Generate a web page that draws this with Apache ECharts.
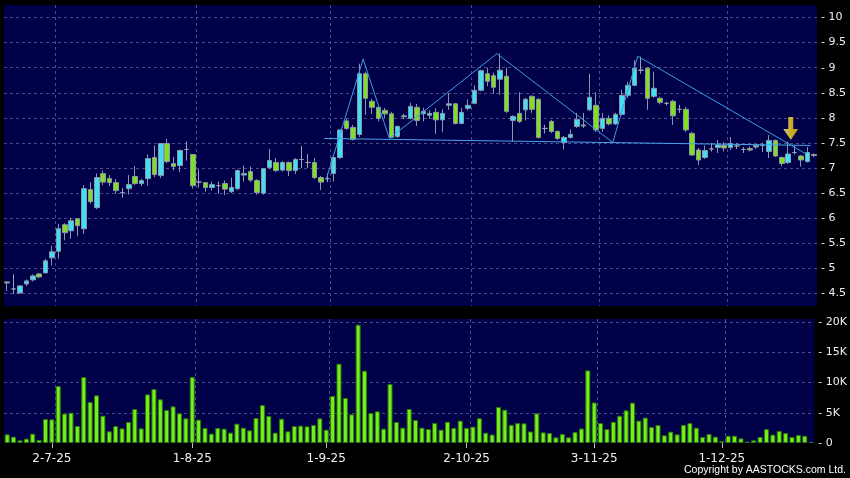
<!DOCTYPE html>
<html>
<head>
<meta charset="utf-8">
<script src="https://cdn.jsdelivr.net/npm/echarts@6/dist/echarts.min.js"></script>
<style>
html, body { margin: 0; padding: 0; background: #000; }
#chart { width: 850px; height: 478px; }
</style>
</head>
<body>
<div id="chart"></div>
<script>
// trading days, d-m-yy
const dates = [
  '20-6-25','23-6-25','24-6-25','25-6-25','26-6-25','27-6-25','30-6-25',
  '2-7-25','3-7-25','4-7-25','7-7-25','8-7-25','9-7-25','10-7-25','11-7-25','14-7-25','15-7-25','16-7-25','17-7-25','18-7-25','21-7-25','22-7-25','23-7-25','24-7-25','25-7-25','28-7-25','29-7-25','30-7-25','31-7-25',
  '1-8-25','4-8-25','5-8-25','6-8-25','7-8-25','8-8-25','11-8-25','12-8-25','13-8-25','14-8-25','15-8-25','18-8-25','19-8-25','20-8-25','21-8-25','22-8-25','25-8-25','26-8-25','27-8-25','28-8-25','29-8-25',
  '1-9-25','2-9-25','3-9-25','4-9-25','5-9-25','8-9-25','9-9-25','10-9-25','11-9-25','12-9-25','15-9-25','16-9-25','17-9-25','18-9-25','19-9-25','22-9-25','23-9-25','24-9-25','25-9-25','26-9-25','29-9-25','30-9-25',
  '2-10-25','3-10-25','6-10-25','8-10-25','9-10-25','10-10-25','13-10-25','14-10-25','15-10-25','16-10-25','17-10-25','20-10-25','21-10-25','22-10-25','23-10-25','24-10-25','27-10-25','28-10-25','30-10-25','31-10-25',
  '3-11-25','4-11-25','5-11-25','6-11-25','7-11-25','10-11-25','11-11-25','12-11-25','13-11-25','14-11-25','17-11-25','18-11-25','19-11-25','20-11-25','21-11-25','24-11-25','25-11-25','26-11-25','27-11-25','28-11-25',
  '1-12-25','2-12-25','3-12-25','4-12-25','5-12-25','8-12-25','9-12-25','10-12-25','11-12-25','12-12-25','15-12-25','16-12-25','17-12-25','18-12-25','19-12-25'
];

const tickDates = ['2-7-25', '1-8-25', '1-9-25', '2-10-25', '3-11-25', '1-12-25'];

// [open, close, low, high]
const ohlc = [
  [4.73,4.71,4.55,4.74],[4.59,4.59,4.49,4.88],[4.51,4.65,4.49,4.66],[4.69,4.75,4.65,4.78],[4.77,4.85,4.74,4.88],
  [4.89,4.83,4.80,4.91],[4.91,5.15,4.90,5.19],[5.21,5.33,5.06,5.45],[5.34,5.79,5.19,5.88],[5.87,5.71,5.56,5.90],
  [5.75,5.95,5.59,6.01],[5.99,5.85,5.64,6.00],[5.79,6.59,5.69,6.66],[6.57,6.33,6.29,6.72],[6.21,6.81,6.18,6.89],
  [6.89,6.72,6.66,6.95],[6.79,6.71,6.64,6.86],[6.71,6.55,6.49,6.78],[6.51,6.51,6.41,6.60],[6.59,6.67,6.47,6.86],
  [6.83,6.69,6.66,7.04],[6.69,6.75,6.64,6.78],[6.79,7.19,6.65,7.27],[7.21,6.87,6.82,7.45],[6.85,7.49,6.80,7.50],
  [7.49,7.13,7.10,7.58],[7.09,7.03,6.95,7.22],[7.05,7.35,6.92,7.37],[7.37,7.37,7.15,7.53],[7.27,6.65,6.59,7.28],
  [6.72,6.72,6.61,6.97],[6.71,6.61,6.53,6.72],[6.61,6.67,6.55,6.73],[6.65,6.65,6.49,6.73],[6.69,6.58,6.46,6.75],
  [6.53,6.61,6.50,6.81],[6.59,6.95,6.56,6.97],[6.86,6.89,6.73,7.05],[6.93,6.76,6.72,7.03],[6.75,6.51,6.47,6.78],
  [6.50,6.99,6.47,7.00],[7.01,7.15,6.98,7.38],[7.11,6.95,6.92,7.20],[6.96,7.11,6.93,7.14],[7.11,6.95,6.84,7.13],
  [6.95,7.17,6.88,7.20],[7.17,7.17,7.00,7.44],[7.11,7.11,7.00,7.28],[7.11,6.81,6.78,7.20],[6.81,6.72,6.56,6.84],
  [6.79,6.79,6.72,6.90],[6.89,7.21,6.73,7.24],[7.21,7.76,7.18,7.76],[7.94,7.79,7.76,7.98],[7.81,7.57,7.55,7.86],
  [7.67,8.88,7.62,9.08],[8.88,8.39,8.06,8.92],[8.33,8.21,8.08,8.38],[8.21,7.99,7.93,8.25],[8.15,8.08,8.00,8.20],
  [8.08,7.61,7.59,8.12],[7.63,7.83,7.60,7.85],[8.04,8.02,7.97,8.08],[7.99,8.23,7.97,8.30],[8.21,7.95,7.84,8.28],
  [8.08,8.13,7.93,8.20],[8.05,8.09,7.98,8.15],[8.11,7.96,7.68,8.19],[7.96,8.09,7.72,8.17],[8.25,8.28,8.16,8.49],
  [8.28,7.89,7.87,8.30],[7.89,8.11,7.87,8.20],[8.19,8.25,8.15,8.37],[8.29,8.55,8.27,8.65],[8.55,8.94,8.53,8.96],
  [8.88,8.73,8.63,9.00],[8.84,8.61,8.48,8.90],[8.77,8.95,8.46,9.28],[8.83,8.13,8.10,9.00],[7.95,8.03,7.53,8.05],
  [8.09,7.93,7.90,8.51],[8.16,8.37,7.95,8.40],[8.43,8.17,8.10,8.45],[8.37,7.61,7.59,8.39],[7.79,7.79,7.69,7.86],
  [7.93,7.73,7.70,7.96],[7.73,7.59,7.56,7.75],[7.51,7.61,7.37,7.64],[7.61,7.67,7.59,7.77],[7.83,7.97,7.80,8.10],
  [7.84,7.86,7.80,8.10],[8.16,8.41,8.14,8.88],[8.25,7.76,7.72,8.51],[7.79,7.99,7.72,8.10],[7.99,7.88,7.85,8.05],
  [7.88,8.07,7.86,8.10],[8.07,8.45,8.05,8.56],[8.45,8.65,8.40,8.72],[8.65,8.99,8.63,9.15],[8.95,8.95,8.88,9.22],
  [8.99,8.39,8.16,9.00],[8.43,8.59,8.40,8.92],[8.39,8.31,8.27,8.42],[8.29,8.29,8.25,8.32],[8.33,8.04,7.86,8.36],
  [8.17,8.17,8.10,8.26],[8.17,7.76,7.72,8.22],[7.69,7.26,7.24,7.72],[7.36,7.16,7.06,7.40],[7.21,7.35,7.18,7.45],
  [7.38,7.38,7.33,7.50],[7.41,7.46,7.30,7.56],[7.45,7.40,7.33,7.52],[7.41,7.49,7.36,7.62],[7.44,7.44,7.38,7.50],
  [7.37,7.37,7.30,7.42],[7.39,7.36,7.33,7.43],[7.42,7.45,7.38,7.48],[7.45,7.45,7.32,7.50],[7.33,7.55,7.20,7.66],
  [7.55,7.24,7.22,7.57],[7.21,7.09,7.04,7.23],[7.11,7.28,7.08,7.53],[7.31,7.31,7.27,7.45],[7.24,7.16,7.03,7.26],
  [7.13,7.31,7.11,7.42],[7.27,7.25,7.22,7.29]
];

// volume in thousands
const volumeK = [
  1.43,1.05,0.44,0.72,1.54,0.5,3.97,3.91,9.42,4.85,
  5.01,2.81,10.9,6.78,7.88,4.52,1.93,2.81,2.42,3.47,
  5.62,2.42,8.04,8.93,7.22,5.45,6.06,4.9,4.08,10.9,
  3.86,2.48,1.54,2.48,2.37,1.71,3.2,2.53,2.09,4.13,
  6.28,4.46,1.71,4.02,1.93,2.81,2.87,2.75,2.98,4.08,
  2.2,7.77,13.1,7.44,4.74,19.56,11.96,4.96,5.23,2.37,
  9.75,3.47,2.53,5.62,3.8,2.53,2.3,3.3,2.2,3.5,
  2.5,3.7,2.5,2.7,4.1,1.7,1.4,5.95,5.5,3.0,
  3.3,3.25,1.9,4.9,1.76,1.65,0.94,1.5,0.94,1.8,
  2.4,12.0,6.7,3.3,2.3,3.5,4.5,5.4,6.67,3.7,
  4.2,2.64,2.98,1.27,1.87,1.43,2.98,3.3,2.53,1.0,
  1.5,1.05,0.33,1.2,1.2,0.77,0.22,0.44,1.0,2.3,
  1.38,2.0,1.65,1.0,1.32,1.2,0.17
];

// drawn pattern, [day index, price]
const headShoulders = [[49.8,6.76],[55.6,9.17],[59.7,7.59],[76.5,9.28],[94.6,7.51],[98.5,9.23],[124.8,7.28]];
const neckline = [[49.5,7.59],[125.5,7.45]];
const arrowAt = [[122.4,7.79]];

const gridColor = '#4b4b88';
const font = 'DejaVu Sans';
const isTick = i => tickDates.indexOf(dates[i]) >= 0;
const vLineColors = tickDates.map(() => gridColor).concat(['transparent']);

function dateAxis(gridIndex, labels) {
  return {
    type: 'category',
    gridIndex: gridIndex,
    data: dates,
    boundaryGap: true,
    axisLine: { show: false },
    axisTick: {
      show: labels, alignWithLabel: true, length: 5,
      interval: i => isTick(i),
      lineStyle: { color: '#bbbbbb' }
    },
    axisLabel: {
      show: labels, interval: i => isTick(i), margin: 10,
      color: '#eeeeee', fontSize: 12, fontFamily: font
    },
    splitLine: {
      show: true,
      interval: i => i > 0 && isTick(i - 1),
      lineStyle: { color: vLineColors, type: [3, 3], width: 1 }
    }
  };
}

const chart = echarts.init(document.getElementById('chart'));
chart.setOption({
  animation: false,
  backgroundColor: '#000000',
  title: {
    text: 'Copyright by AASTOCKS.com Ltd.',
    right: 4, top: 465, padding: 0,
    textStyle: { color: '#ffffff', fontSize: 10.5, fontWeight: 'normal', fontFamily: 'Liberation Sans' }
  },
  grid: [
    { left: 4, right: 33, top: 5, height: 301, show: true, backgroundColor: '#000048', borderWidth: 0 },
    { left: 4, right: 33, top: 319, height: 124, show: true, backgroundColor: '#000048', borderWidth: 0 }
  ],
  xAxis: [
    dateAxis(0, false),
    dateAxis(1, true),
    { type: 'value', gridIndex: 0, min: -0.5, max: dates.length - 0.5, show: false }
  ],
  yAxis: [
    {
      type: 'value', gridIndex: 0, position: 'right',
      min: 4.25, max: 10.25, interval: 0.25,
      axisLine: { show: false }, axisTick: { show: false },
      axisLabel: {
        margin: 4, color: '#eeeeee', fontSize: 11, fontFamily: font,
        formatter: v => (Math.abs(v * 2 - Math.round(v * 2)) < 1e-6 && v > 4.4 && v < 10.1) ? '- ' + (+v.toFixed(1)) : ''
      },
      splitLine: { lineStyle: { color: ['transparent', gridColor], type: [3, 3] } }
    },
    {
      type: 'value', gridIndex: 1, position: 'right',
      min: 0, max: 20.5, interval: 5,
      axisLine: { show: false }, axisTick: { show: false },
      axisLabel: {
        margin: 4, color: '#eeeeee', fontSize: 11, fontFamily: font,
        formatter: v => (v % 5 === 0) ? (v === 0 ? '- 0' : '- ' + v + 'K') : ''
      },
      splitLine: { lineStyle: { color: ['transparent', gridColor, gridColor, gridColor, gridColor, 'transparent'], type: [3, 3] } }
    }
  ],
  series: [
    {
      type: 'candlestick',
      xAxisIndex: 0, yAxisIndex: 0,
      data: ohlc,
      barWidth: 5,
      clip: false,
      itemStyle: {
        color: '#3ee0f2', color0: '#80e020',
        borderColor: '#8b97a8', borderColor0: '#8b97a8', borderColorDoji: '#9aa3b3',
        borderWidth: 1
      }
    },
    {
      type: 'bar',
      xAxisIndex: 1, yAxisIndex: 1,
      data: volumeK,
      barWidth: 5,
      itemStyle: { color: '#74ee1c', borderColor: '#2c7a08', borderWidth: 1 }
    },
    {
      type: 'line',
      xAxisIndex: 2, yAxisIndex: 0,
      data: neckline,
      symbol: 'none', silent: true,
      lineStyle: { color: '#45a6ea', width: 1 }
    },
    {
      type: 'line',
      xAxisIndex: 2, yAxisIndex: 0,
      data: headShoulders,
      symbol: 'none', silent: true,
      lineStyle: { color: '#3a9ee6', width: 1 }
    },
    {
      type: 'scatter',
      xAxisIndex: 2, yAxisIndex: 0,
      data: arrowAt,
      silent: true,
      symbol: 'path://M5,0 L10,0 L10,12 L15,12 L7.5,23 L0,12 L5,12 Z',
      symbolSize: [15, 23],
      itemStyle: {
        color: new echarts.graphic.LinearGradient(0, 0, 1, 0, [
          { offset: 0, color: '#fff8a0' },
          { offset: 0.45, color: '#ffdc2a' },
          { offset: 1, color: '#f7b400' }
        ]),
        borderWidth: 0
      }
    }
  ]
});
</script>
</body>
</html>
